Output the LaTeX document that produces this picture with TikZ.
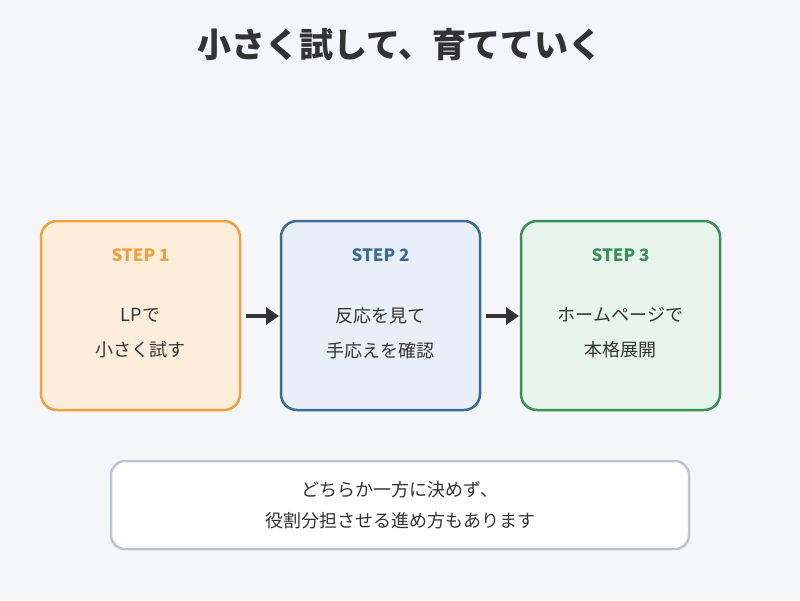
\documentclass[tikz,border=0pt]{standalone}
\usepackage{fontspec}
\setmainfont{Noto Sans CJK JP}
\usetikzlibrary{arrows.meta}
\definecolor{bg}{HTML}{F5F6FA}
\definecolor{ink}{HTML}{333333}
\definecolor{oF}{HTML}{FDEEDC}\definecolor{oB}{HTML}{F2A03D}
\definecolor{bF}{HTML}{E8EFF7}\definecolor{bB}{HTML}{3A6D96}
\definecolor{gF}{HTML}{E8F5EC}\definecolor{gB}{HTML}{3A9158}
\definecolor{nB}{HTML}{BCC4D0}
\tikzset{
  card/.style={draw=#1, line width=2.5pt, rounded corners=16pt, minimum width=199pt, minimum height=189pt, inner sep=0pt},
  steplabel/.style={text=#1, font=\fontsize{17}{17}\selectfont\bfseries, inner sep=0pt},
  body/.style={text=ink, font=\fontsize{18}{35}\selectfont, align=center, inner sep=0pt},
  flow/.style={draw=ink, line width=4pt, -{Triangle[length=13pt,width=17pt]}},
}
\begin{document}
\begin{tikzpicture}[x=1pt,y=-1pt]
\fill[bg] (0,0) rectangle (800,600);
\useasboundingbox (0,0) rectangle (800,600);
\node[text=ink, font=\fontsize{34}{34}\selectfont\bfseries, inner sep=0pt] (title) at (400,45) {小さく試して、育てていく};
\node[card=oB, fill=oF] (c1) at (140.5,315.5) {};
\node[card=bB, fill=bF] (c2) at (380.5,315.5) {};
\node[card=gB, fill=gF] (c3) at (620.5,315.5) {};
\node[steplabel=oB] (s1) at (140.5,255) {STEP 1};
\node[steplabel=bB] (s2) at (380.5,255) {STEP 2};
\node[steplabel=gB] (s3) at (620.5,255) {STEP 3};
\node[body] (t1) at (140.5,333) {LPで\\小さく試す};
\node[body] (t2) at (380.5,333) {反応を見て\\手応えを確認};
\node[body] (t3) at (620.5,333) {ホームページで\\本格展開};
\coordinate (a1s) at (246,316); \coordinate (a1e) at (279,316);
\coordinate (a2s) at (486,316); \coordinate (a2e) at (519,316);
\draw[flow] (a1s) -- (a1e);
\draw[flow] (a2s) -- (a2e);
\node[draw=nB, fill=white, line width=2.5pt, rounded corners=14pt, minimum width=578pt, minimum height=88pt] (note) at (400,505) {};
\node[body, font=\fontsize{18}{31}\selectfont] (nt) at (400,505.5) {どちらか一方に決めず、\\役割分担させる進め方もあります};
\end{tikzpicture}
\end{document}
